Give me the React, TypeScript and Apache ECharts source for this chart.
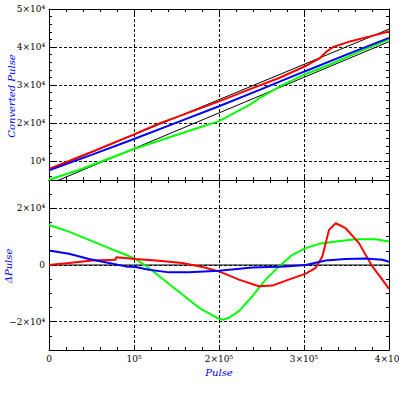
import React, { useEffect, useRef } from 'react';
import * as echarts from 'echarts';

// ---------- axes ----------
const pulseMin = 0;
const pulseMax = 400000;
const pulseInterval = 100000;
const pulseTickValues = [0, 100000, 200000, 300000, 400000];
const pulseTickLabels = ['0', '10⁵', '2×10⁵', '3×10⁵', '4×10⁵'];

const convMin = 5000;
const convMax = 50000;
const convTickValues = [10000, 20000, 30000, 40000, 50000];
const convTickLabels = ['10⁴', '2×10⁴', '3×10⁴', '4×10⁴', '5×10⁴'];
const convMinorTicks = [6000, 8000, 12000, 14000, 16000, 18000, 22000, 24000, 26000, 28000, 32000, 34000, 36000, 38000, 42000, 44000, 46000, 48000];

const deltaMin = -30000;
const deltaMax = 30000;
const deltaTickValues = [-20000, 0, 20000];
const deltaTickLabels = ['−2×10⁴', '0', '2×10⁴'];
const deltaMinorTicks = [-25000, -15000, -10000, -5000, 5000, 10000, 15000, 25000];

// ---------- top panel: converted pulse ----------
const refUpper = [[0, 7600], [400000, 44700]];
const refLower = [[0, 3900], [400000, 41400]];
const convRed = [
  [0, 7890], [50000, 12400], [100000, 17000], [130600, 19950], [150000, 21560], [200000, 25700],
  [236500, 28900], [270600, 31840], [300000, 34800], [318800, 37100], [326000, 38700],
  [334500, 40000], [354100, 41470], [377600, 42790], [400000, 44100],
];
const convGreen = [
  [0, 5080], [39200, 7970], [100000, 13160], [156900, 17370], [169800, 18300], [200000, 20500],
  [236500, 24820], [250000, 26900], [275700, 30080], [300000, 32710], [334500, 35790],
  [366000, 38840], [400000, 42000],
];
const convBlue = [
  [0, 7530], [50000, 11600], [100000, 15790], [150000, 20100], [200000, 24400],
  [250000, 28900], [300000, 33500], [350000, 38000], [400000, 42400],
];

// ---------- bottom panel: delta pulse ----------
const zeroRef = [[0, 0], [400000, 0]];
const deltaRed = [
  [0, 0], [23500, 700], [51000, 1610], [78400, 1860], [79000, 2700], [102000, 2100],
  [129400, 1510], [156900, 700], [180400, -700], [200000, -2240], [223500, -5160],
  [247000, -7500], [262700, -7260], [282000, -5160], [302000, -3050], [313700, -1050],
  [321600, 3020], [325500, 7720], [329400, 12390], [337300, 14740], [349000, 12980],
  [364700, 7720], [380400, -490], [392100, -5160], [400000, -8420],
];
const deltaGreen = [
  [0, 14140], [23500, 11790], [47000, 8880], [70600, 5960], [90200, 3610],
  [102000, 2100], [117600, -1050], [137300, -5750], [156900, -10420], [176500, -15090],
  [200000, -19000], [205000, -19300], [211800, -18600], [223500, -16280], [239200, -11020],
  [254900, -5160], [270600, -490], [286300, 3610], [302000, 5960], [317600, 7470],
  [337300, 8280], [360800, 9120], [384300, 9120], [400000, 8280],
];
const deltaBlue = [
  [0, 5120], [23500, 3960], [47000, 2100], [70600, 700], [90200, -490],
  [102000, -700], [117600, -1650], [141200, -2600], [164700, -2600], [200000, -2000],
  [239200, -900], [278400, -490], [302000, 0], [325500, 1610], [349000, 2100],
  [372500, 2320], [392100, 1860], [400000, 1160],
];

const BLACK = '#000000';
const RED = '#ff0000';
const GREEN = '#00ff00';
const BLUE = '#0000ff';
const FONT = 'DejaVu Serif';

const labelStyle = { fontFamily: FONT, fontSize: 9, color: BLACK, margin: 4 };
const dashed = { show: true, lineStyle: { color: BLACK, width: 1, type: [3, 2] } };

function xAxisDef(gridIndex: number, position: string, showLabels: boolean, withSplit: boolean) {
  return {
    type: 'value',
    gridIndex,
    position,
    min: pulseMin,
    max: pulseMax,
    interval: pulseInterval,
    axisLine: { show: true, onZero: false, lineStyle: { color: BLACK, width: 1 } },
    axisTick: { show: true, inside: true, length: 5, lineStyle: { color: BLACK, width: 1 } },
    minorTick: { show: true, splitNumber: 5, length: 3, lineStyle: { color: BLACK, width: 1 } },
    axisLabel: showLabels
      ? {
          ...labelStyle,
          showMinLabel: true,
          showMaxLabel: true,
          formatter: (v: number) => {
            const i = pulseTickValues.indexOf(v);
            return i >= 0 ? pulseTickLabels[i] : '';
          },
        }
      : { show: false },
    splitLine: withSplit ? dashed : { show: false },
    minorSplitLine: { show: false },
  };
}

function yAxesDef(
  gridIndex: number,
  min: number,
  max: number,
  majors: number[],
  labels: string[],
  minors: number[],
) {
  const base = { type: 'value', gridIndex, min, max, minorTick: { show: false } };
  const major = (position: string, primary: boolean) => ({
    ...base,
    position,
    axisLine: { show: true, onZero: false, lineStyle: { color: BLACK, width: 1 } },
    axisTick: { show: true, inside: true, length: 5, customValues: majors, lineStyle: { color: BLACK, width: 1 } },
    axisLabel: primary
      ? {
          ...labelStyle,
          customValues: majors,
          formatter: (v: number) => {
            const i = majors.indexOf(v);
            return i >= 0 ? labels[i] : '';
          },
        }
      : { show: false },
    splitLine: primary ? dashed : { show: false },
  });
  const minor = (position: string) => ({
    ...base,
    position,
    axisLine: { show: false, onZero: false },
    axisTick: { show: true, inside: true, length: 3, customValues: minors, lineStyle: { color: BLACK, width: 1 } },
    axisLabel: { show: false },
    splitLine: { show: false },
  });
  return [major('left', true), minor('left'), major('right', false), minor('right')];
}

function lineSeries(data: number[][], color: string, width: number, xi: number, yi: number) {
  return {
    type: 'line',
    xAxisIndex: xi,
    yAxisIndex: yi,
    data,
    symbol: 'none',
    showSymbol: false,
    silent: true,
    lineStyle: { color, width },
    itemStyle: { color },
  };
}

export default function App() {
  const ref = useRef<HTMLDivElement>(null);
  useEffect(() => {
    if (!ref.current) return;
    const chart = echarts.init(ref.current, null, { renderer: 'svg' });
    chart.setOption({
      animation: false,
      backgroundColor: '#ffffff',
      textStyle: { fontFamily: FONT },
      grid: [
        { left: 49, right: 10, top: 9, height: 171, outerBoundsMode: 'none', containLabel: false },
        { left: 49, right: 10, top: 180, height: 170, outerBoundsMode: 'none', containLabel: false },
      ],
      xAxis: [
        xAxisDef(0, 'bottom', false, true),
        xAxisDef(0, 'top', false, false),
        xAxisDef(1, 'bottom', true, true),
        xAxisDef(1, 'top', false, false),
      ],
      yAxis: [
        ...yAxesDef(0, convMin, convMax, convTickValues, convTickLabels, convMinorTicks),
        ...yAxesDef(1, deltaMin, deltaMax, deltaTickValues, deltaTickLabels, deltaMinorTicks),
      ],
      series: [
        lineSeries(refUpper, BLACK, 1, 0, 0),
        lineSeries(refLower, BLACK, 1, 0, 0),
        lineSeries(convGreen, GREEN, 2, 0, 0),
        lineSeries(convRed, RED, 2, 0, 0),
        lineSeries(convBlue, BLUE, 2, 0, 0),
        lineSeries(zeroRef, BLACK, 1, 2, 4),
        lineSeries(deltaGreen, GREEN, 2, 2, 4),
        lineSeries(deltaRed, RED, 2, 2, 4),
        lineSeries(deltaBlue, BLUE, 2, 2, 4),
      ],
      graphic: [
        {
          type: 'text',
          x: 11,
          y: 96,
          rotation: Math.PI / 2,
          style: {
            text: 'Converted Pulse',
            fill: BLUE,
            fontFamily: FONT,
            fontStyle: 'italic',
            fontSize: 10,
            align: 'center',
            verticalAlign: 'middle',
          },
        },
        {
          type: 'text',
          x: 8,
          y: 266,
          rotation: Math.PI / 2,
          style: {
            text: 'ΔPulse',
            fill: BLUE,
            fontFamily: FONT,
            fontStyle: 'italic',
            fontSize: 10,
            align: 'center',
            verticalAlign: 'middle',
          },
        },
        {
          type: 'text',
          x: 219,
          y: 372,
          style: {
            text: 'Pulse',
            fill: BLUE,
            fontFamily: FONT,
            fontStyle: 'italic',
            fontSize: 10,
            align: 'center',
            verticalAlign: 'middle',
          },
        },
      ],
    });
    return () => chart.dispose();
  }, []);
  return (
    <div
      ref={ref}
      style={{ position: 'fixed', left: 0, top: 0, width: 399, height: 399, background: '#ffffff' }}
    />
  );
}
